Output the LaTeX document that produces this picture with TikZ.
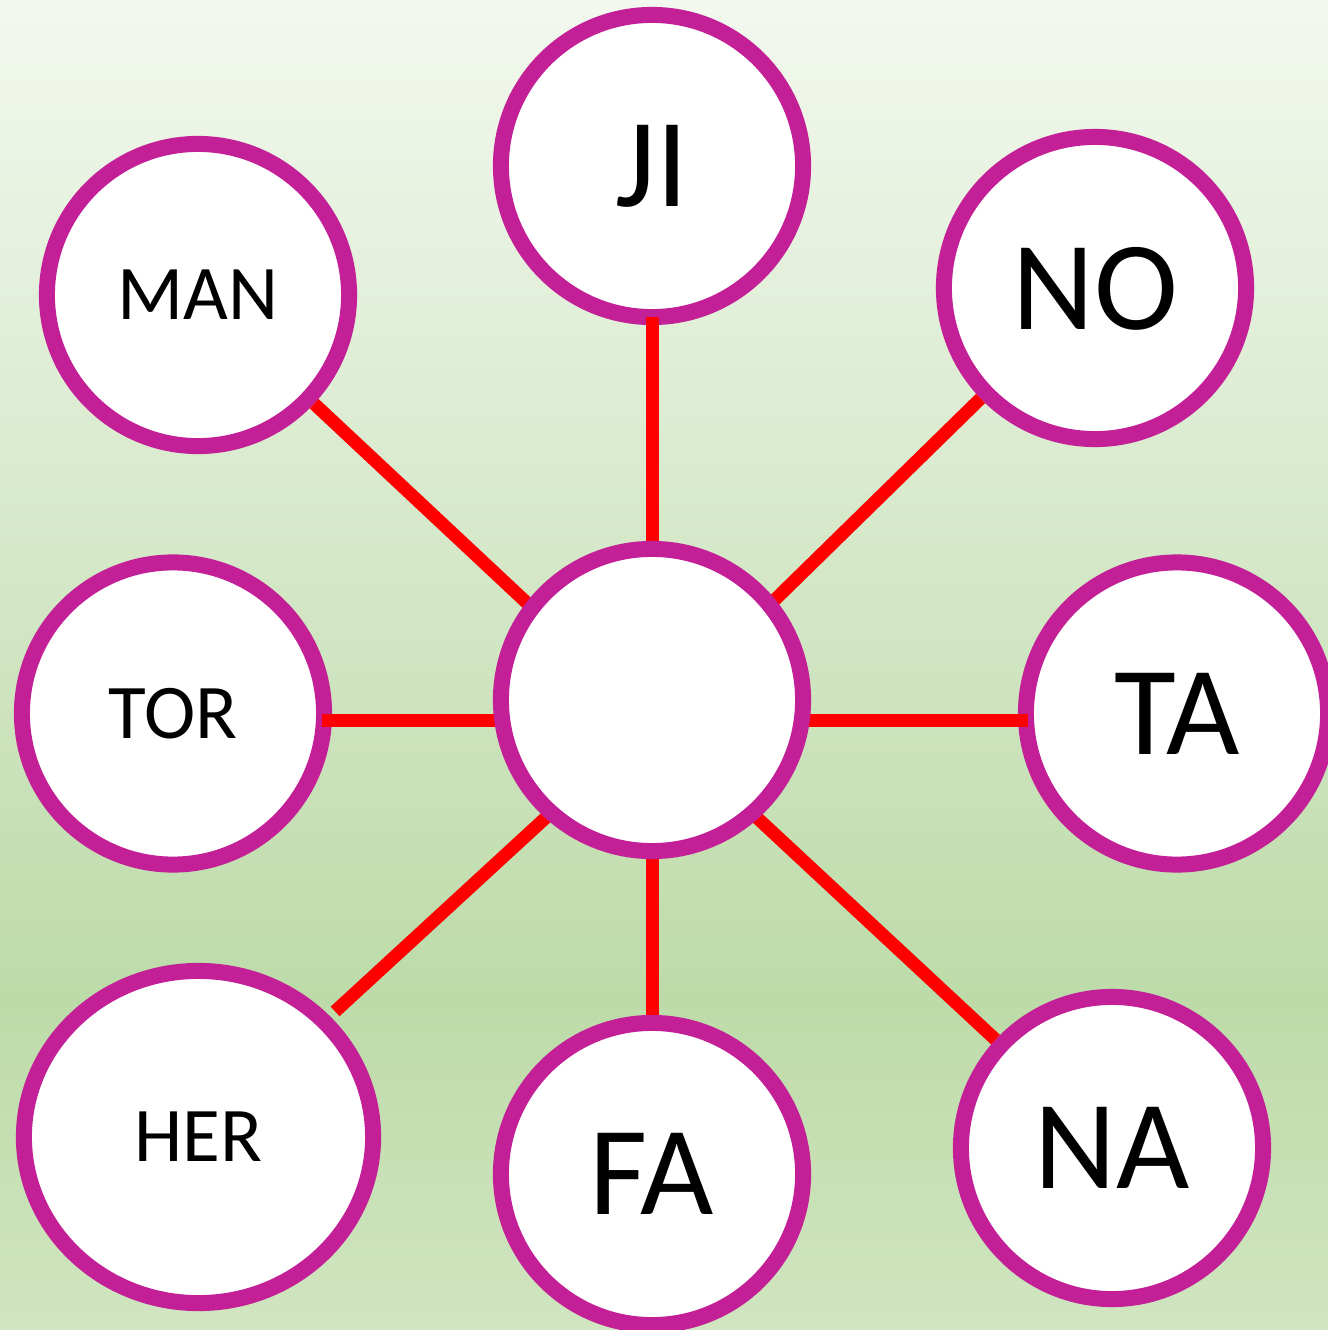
\documentclass[tikz,border=0pt]{standalone}
\usepackage{fontspec}
\setmainfont{Carlito}
\usetikzlibrary{shapes.geometric}
\definecolor{ring}{RGB}{195,31,151}
\definecolor{bgtop}{RGB}{243,248,239}
\definecolor{bgmid}{RGB}{189,219,169}
\definecolor{bgbot}{RGB}{208,229,192}
\begin{document}
\begin{tikzpicture}[x=0.01cm,y=-0.01cm,
  ringline/.style={draw=ring,fill=white,line width=0.16cm,inner sep=0pt,text depth=-0.06cm},
  ball/.style={ringline,circle,minimum size=3.02cm},
  oval/.style={ringline,ellipse,minimum width=3.49cm,minimum height=3.32cm},
  big/.style={font=\fontsize{36}{40}\selectfont},
  small/.style={font=\fontsize{22}{26}\selectfont},
  spoke/.style={draw=red,line width=0.13cm}]
\useasboundingbox (0,0) rectangle (1328,1330);
\shade[top color=bgtop,bottom color=bgmid] (0,0) rectangle (1328,1000);
\shade[top color=bgmid,bottom color=bgbot] (0,999) rectangle (1328,1330);
% outer circles
\node[ball,big] (ji) at (652,166) {JI};
\node[ball,small] (man) at (198,295) {MAN};
\node[ball,big] (no) at (1095,288) {NO};
\node[ball,small] (tor) at (173,713.5) {TOR};
\node[ball,big] (ta) at (1177,713.5) {TA};
\node[oval,small] (her) at (198.5,1137) {HER};
\node[ball,big] (fa) at (652,1174) {FA};
\node[ball,big] (na) at (1112,1148) {NA};
\coordinate (hub) at (652,720);
% spokes
\draw[spoke,shorten <=-0.08cm] (ji) -- (hub);
\draw[spoke] (man) -- (hub);
\draw[spoke] (no.-136) -- (hub);
\draw[spoke,shorten <=-0.1cm] (tor.east |- hub) -- (hub);
\draw[spoke,shorten <=-0.1cm] (ta.west |- hub) -- (hub);
\draw[spoke,shorten <=0.07cm] (her) -- (hub);
\draw[spoke] (fa) -- (hub);
\draw[spoke] (na) -- (hub);
% centre circle
\node[ball] (c) at (652,700) {};
\end{tikzpicture}
\end{document}
